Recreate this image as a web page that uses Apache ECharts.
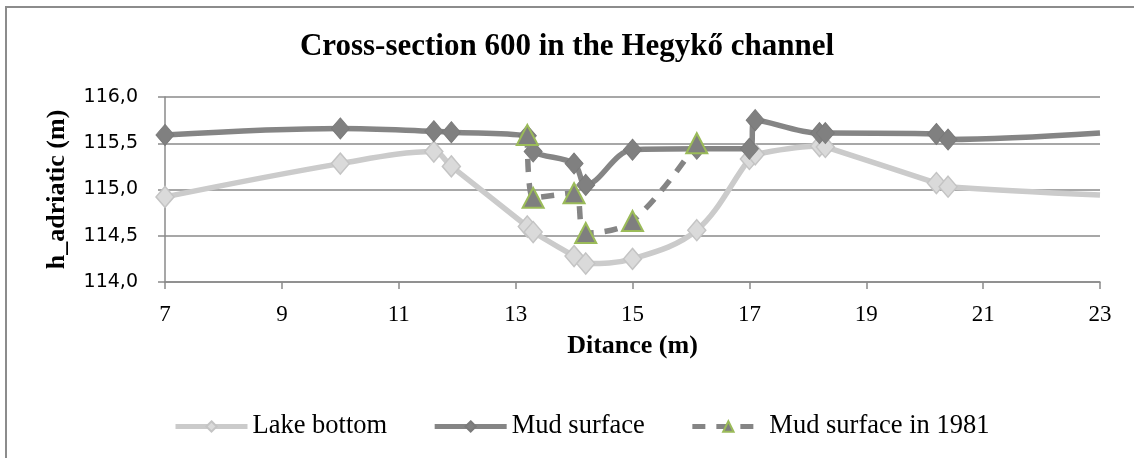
<!DOCTYPE html>
<html>
<head>
<meta charset="utf-8">
<script src="https://cdn.jsdelivr.net/npm/echarts@6/dist/echarts.min.js"></script>
<style>
  html, body { margin: 0; padding: 0; background: #fff; }
  #chart { width: 1134px; height: 458px; }
</style>
</head>
<body>
<div id="chart"></div>
<script>
// Cross-section 600 — distance across the channel (m) vs. elevation (m, Adriatic datum)
const chartTitle = 'Cross-section 600 in the Hegykő channel';
const xName = 'Ditance (m)';
const yName = 'h_adriatic (m)';
const seriesNames = ['Lake bottom', 'Mud surface', 'Mud surface in 1981'];

const xTicks = [7, 9, 11, 13, 15, 17, 19, 21, 23];

// [distance, elevation]
const lakeBottom = [
  [7.0, 114.92], [10.0, 115.28], [11.6, 115.41], [11.9, 115.25],
  [13.2, 114.60], [13.3, 114.54], [14.0, 114.28], [14.2, 114.20],
  [15.0, 114.25], [16.1, 114.56], [17.0, 115.33], [17.1, 115.38],
  [18.2, 115.47], [18.3, 115.46], [20.2, 115.07], [20.4, 115.03],
  [23.0, 114.94]
];
const mudSurface = [
  [7.0, 115.59], [10.0, 115.66], [11.6, 115.63], [11.9, 115.62],
  [13.2, 115.58], [13.3, 115.41], [14.0, 115.28], [14.2, 115.05],
  [15.0, 115.43], [16.1, 115.44], [17.0, 115.44], [17.1, 115.75],
  [18.2, 115.61], [18.3, 115.61], [20.2, 115.60], [20.4, 115.54],
  [23.0, 115.61]
];
const mudSurface1981 = [
  [13.2, 115.59], [13.3, 114.91], [14.0, 114.96], [14.2, 114.53],
  [15.0, 114.66], [16.1, 115.50]
];

// the edge point at x = 23 only carries the line to the axis end
function withOpenEnd(points) {
  return points.map((p, i) =>
    (i === points.length - 1 && p[0] >= 23) ? { value: p, symbol: 'none' } : p);
}

const serif = '"Liberation Serif", "Times New Roman", serif';
const axisGray = '#8a8a8a';

const chart = echarts.init(document.getElementById('chart'), null, { renderer: 'canvas' });

chart.setOption({
  backgroundColor: '#ffffff',
  animation: false,
  title: {
    text: chartTitle,
    left: 'center',
    top: 26,
    textStyle: { fontFamily: serif, fontWeight: 'bold', fontSize: 31, color: '#000' }
  },
  graphic: [{
    type: 'rect',
    shape: { x: 6, y: 7, width: 1200, height: 500 },
    style: { fill: 'none', stroke: '#8c8c8c', lineWidth: 2 },
    silent: true
  }],
  grid: { left: 165, right: 34, top: 97, bottom: 176 },
  legend: {
    left: 168,
    top: 408,
    itemWidth: 72,
    itemHeight: 13,
    itemGap: 45,
    lineStyle: { width: 5 },
    textStyle: { fontFamily: serif, fontSize: 26.5, color: '#000' },
    data: seriesNames
  },
  xAxis: {
    type: 'value',
    min: 7,
    max: 23,
    name: xName,
    nameLocation: 'middle',
    nameGap: 51,
    nameTextStyle: { fontFamily: serif, fontWeight: 'bold', fontSize: 26, color: '#000' },
    axisLine: { show: true, lineStyle: { color: axisGray, width: 1.5 } },
    axisTick: { show: true, length: 7, customValues: xTicks, lineStyle: { color: axisGray, width: 1.5 } },
    axisLabel: {
      customValues: xTicks,
      margin: 21,
      fontFamily: serif,
      fontSize: 23,
      color: '#000'
    },
    splitLine: { show: false }
  },
  yAxis: {
    type: 'value',
    min: 114,
    max: 116,
    interval: 0.5,
    name: yName,
    nameLocation: 'middle',
    nameGap: 95,
    nameTextStyle: { fontFamily: serif, fontWeight: 'bold', fontSize: 26, color: '#000' },
    axisLine: { show: true, lineStyle: { color: axisGray, width: 1.5 } },
    axisTick: { show: true, length: 7, lineStyle: { color: axisGray, width: 1.5 } },
    axisLabel: {
      margin: 27,
      fontFamily: '"DejaVu Sans", sans-serif',
      fontSize: 19,
      color: '#000',
      formatter: v => v.toFixed(1).replace('.', ',')
    },
    splitLine: { show: true, lineStyle: { color: axisGray, width: 1.5 } }
  },
  series: [
    {
      name: seriesNames[0],
      type: 'line',
      data: withOpenEnd(lakeBottom),
      smooth: 0.35,
      symbol: 'diamond',
      symbolSize: [18, 21],
      lineStyle: { color: '#cbcbcb', width: 5.5 },
      itemStyle: { color: '#dadada', borderColor: '#c4c4c4', borderWidth: 1.5 },
      z: 2
    },
    {
      name: seriesNames[1],
      type: 'line',
      data: withOpenEnd(mudSurface),
      smooth: 0.35,
      symbol: 'diamond',
      symbolSize: [18, 21],
      lineStyle: { color: '#858585', width: 5.5 },
      itemStyle: { color: '#808080', borderColor: '#7a7a7a', borderWidth: 1 },
      z: 3
    },
    {
      name: seriesNames[2],
      type: 'line',
      data: mudSurface1981,
      smooth: 0.35,
      symbol: 'triangle',
      symbolSize: [21, 20],
      lineStyle: { color: '#858585', width: 5.5, type: [13, 11] },
      itemStyle: { color: '#7f7f7f', borderColor: '#9bbb59', borderWidth: 2 },
      z: 4
    }
  ]
});
</script>
</body>
</html>
